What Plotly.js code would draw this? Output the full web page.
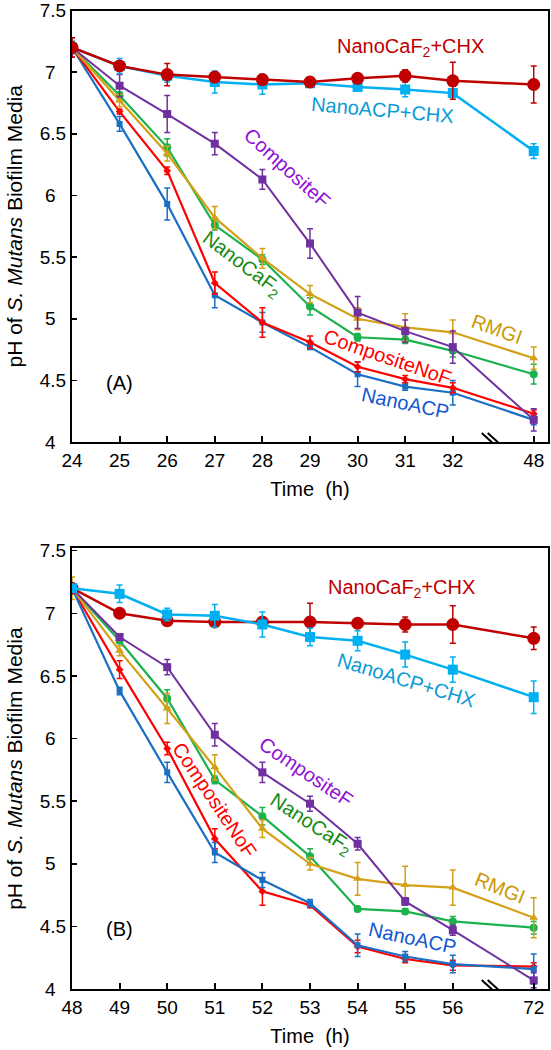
<!DOCTYPE html>
<html>
<head>
<meta charset="utf-8">
<script src="https://cdn.plot.ly/plotly-3.0.1.min.js"></script>
<style>html,body{margin:0;padding:0;background:#fff;} #chart{width:551px;height:1050px;}</style>
</head>
<body>
<div id="chart"></div>
<script>
// ---------- data ----------
const hoursA = [24, 25, 26, 27, 28, 29, 30, 31, 32, 48];
const hoursB = [48, 49, 50, 51, 52, 53, 54, 55, 56, 72];
const tickLabelsA = ['24', '25', '26', '27', '28', '29', '30', '31', '32', '48'];
const tickLabelsB = ['48', '49', '50', '51', '52', '53', '54', '55', '56', '72'];
const yTickVals = [4, 4.5, 5, 5.5, 6, 6.5, 7, 7.5];
const yTickLabels = ['4\u2007', '4.5', '5\u2007', '5.5', '6\u2007', '6.5', '7\u2007', '7.5'];

const seriesNames = ['NanoCaF2+CHX', 'NanoACP+CHX', 'CompositeF', 'RMGI', 'NanoCaF2', 'CompositeNoF', 'NanoACP'];

// Panel A (24-48 h)
const nanoCaF2CHX_A = [7.20, 7.05, 6.98, 6.96, 6.94, 6.92, 6.95, 6.97, 6.93, 6.90];
const nanoCaF2CHX_A_err = [0.08, 0.03, 0.09, 0.03, 0.03, 0.02, 0.03, 0.05, 0.15, 0.15];
const nanoACPCHX_A = [7.20, 7.05, 6.97, 6.92, 6.90, 6.91, 6.88, 6.86, 6.83, 6.36];
const nanoACPCHX_A_err = [0.05, 0.06, 0.05, 0.09, 0.08, 0.02, 0.03, 0.06, 0.03, 0.06];
const compositeF_A = [7.20, 6.89, 6.66, 6.42, 6.13, 5.61, 5.05, 4.90, 4.77, 4.18];
const compositeF_A_err = [0.08, 0.09, 0.15, 0.09, 0.08, 0.12, 0.13, 0.09, 0.13, 0.09];
const rmgi_A = [7.20, 6.77, 6.34, 5.82, 5.49, 5.20, 5.00, 4.93, 4.89, 4.68];
const rmgi_A_err = [0.05, 0.05, 0.06, 0.09, 0.08, 0.07, 0.09, 0.11, 0.10, 0.09];
const nanoCaF2_A = [7.20, 6.81, 6.39, 5.76, 5.48, 5.10, 4.85, 4.83, 4.74, 4.55];
const nanoCaF2_A_err = [0.03, 0.03, 0.07, 0.04, 0.04, 0.07, 0.03, 0.03, 0.05, 0.08];
const compositeNoF_A = [7.20, 6.68, 6.20, 5.29, 4.97, 4.81, 4.61, 4.51, 4.44, 4.23];
const compositeNoF_A_err = [0.03, 0.02, 0.03, 0.09, 0.12, 0.05, 0.04, 0.03, 0.04, 0.03];
const nanoACP_A = [7.20, 6.58, 5.93, 5.19, 4.97, 4.77, 4.55, 4.45, 4.40, 4.18];
const nanoACP_A_err = [0.03, 0.06, 0.13, 0.10, 0.08, 0.02, 0.10, 0.03, 0.10, 0.04];

// Panel B (48-72 h)
const nanoCaF2CHX_B = [7.20, 7.00, 6.94, 6.93, 6.93, 6.93, 6.92, 6.91, 6.91, 6.80];
const nanoCaF2CHX_B_err = [0.03, 0.02, 0.02, 0.02, 0.02, 0.15, 0.03, 0.06, 0.15, 0.09];
const nanoACPCHX_B = [7.20, 7.155, 6.99, 6.98, 6.91, 6.81, 6.78, 6.67, 6.55, 6.33];
const nanoACPCHX_B_err = [0.02, 0.07, 0.05, 0.09, 0.10, 0.07, 0.08, 0.10, 0.10, 0.13];
const compositeF_B = [7.20, 6.81, 6.57, 6.03, 5.73, 5.48, 5.16, 4.70, 4.47, 4.07];
const compositeF_B_err = [0.02, 0.02, 0.06, 0.09, 0.08, 0.06, 0.05, 0.03, 0.04, 0.06];
const rmgi_B = [7.20, 6.70, 6.24, 5.77, 5.28, 5.00, 4.88, 4.83, 4.81, 4.57];
const rmgi_B_err = [0.09, 0.04, 0.12, 0.10, 0.07, 0.05, 0.13, 0.15, 0.14, 0.16];
const nanoCaF2_B = [7.20, 6.78, 6.32, 5.67, 5.38, 5.06, 4.64, 4.62, 4.54, 4.49];
const nanoCaF2_B_err = [0.02, 0.02, 0.07, 0.03, 0.07, 0.06, 0.02, 0.02, 0.04, 0.05];
const compositeNoF_B = [7.20, 6.55, 5.92, 5.20, 4.78, 4.67, 4.34, 4.24, 4.19, 4.18];
const compositeNoF_B_err = [0.02, 0.07, 0.05, 0.08, 0.11, 0.02, 0.05, 0.03, 0.04, 0.03];
const nanoACP_B = [7.20, 6.38, 5.73, 5.09, 4.87, 4.685, 4.35, 4.26, 4.20, 4.16];
const nanoACP_B_err = [0.02, 0.03, 0.08, 0.08, 0.06, 0.03, 0.09, 0.04, 0.07, 0.12];

// ---------- broken time axis: 8 consecutive hours, then a break to the final hour ----------
const BREAK_AFTER = 8, LAST_POS = 9.7;
function axisPos(hours) {
  const h0 = hours[0];
  return hours.map(h => (h - h0 <= BREAK_AFTER ? h - h0 : LAST_POS));
}

// ---------- styles ----------
const FONT = 'Arial, "Liberation Sans", sans-serif';
const styles = {
  'NanoCaF2+CHX': {color: '#C00000', symbol: 'circle', size: 13, width: 2.5},
  'NanoACP+CHX': {color: '#00B0F0', symbol: 'square', size: 10, width: 2.5},
  'CompositeF':  {color: '#7030A0', symbol: 'square', size: 8, width: 2},
  'RMGI':        {color: '#D4A017', symbol: 'triangle-up', size: 8, width: 2.2},
  'NanoCaF2':    {color: '#1BB14C', symbol: 'circle', size: 8, width: 2.2},
  'CompositeNoF':{color: '#FF0000', symbol: 'diamond', size: 6, width: 2.2},
  'NanoACP':     {color: '#1A6FC4', symbol: 'square', size: 6, width: 2.2}
};

function mk(name, hours, vals, errs, xa, ya) {
  const s = styles[name];
  return {
    type: 'scatter', mode: 'lines+markers', name: name,
    x: axisPos(hours), y: vals, xaxis: xa, yaxis: ya,
    line: {color: s.color, width: s.width},
    marker: {color: s.color, symbol: s.symbol, size: s.size},
    error_y: {type: 'data', array: errs, visible: true, color: s.color, thickness: 1.5, width: 3},
    showlegend: false, hoverinfo: 'skip'
  };
}

const panelA = [
  ['NanoACP', nanoACP_A, nanoACP_A_err],
  ['CompositeNoF', compositeNoF_A, compositeNoF_A_err],
  ['NanoCaF2', nanoCaF2_A, nanoCaF2_A_err],
  ['RMGI', rmgi_A, rmgi_A_err],
  ['CompositeF', compositeF_A, compositeF_A_err],
  ['NanoACP+CHX', nanoACPCHX_A, nanoACPCHX_A_err],
  ['NanoCaF2+CHX', nanoCaF2CHX_A, nanoCaF2CHX_A_err]
];
const panelB = [
  ['CompositeNoF', compositeNoF_B, compositeNoF_B_err],
  ['NanoACP', nanoACP_B, nanoACP_B_err],
  ['NanoCaF2', nanoCaF2_B, nanoCaF2_B_err],
  ['RMGI', rmgi_B, rmgi_B_err],
  ['CompositeF', compositeF_B, compositeF_B_err],
  ['NanoCaF2+CHX', nanoCaF2CHX_B, nanoCaF2CHX_B_err],
  ['NanoACP+CHX', nanoACPCHX_B, nanoACPCHX_B_err]
];

const data = [];
panelA.forEach(p => data.push(mk(p[0], hoursA, p[1], p[2], 'x', 'y')));
panelB.forEach(p => data.push(mk(p[0], hoursB, p[1], p[2], 'x2', 'y2')));

function xAxis(hours, labels, anchor) {
  return {
    domain: [0, 1], anchor: anchor, range: [0, 10],
    tickmode: 'array', tickvals: axisPos(hours), ticktext: labels,
    ticks: 'inside', ticklen: 6, tickwidth: 2, tickcolor: '#000',
    showline: true, linecolor: '#000', linewidth: 2, mirror: true,
    showgrid: false, zeroline: false, ticklabeloverflow: 'allow',
    tickfont: {family: FONT, size: 19, color: '#000'},
    title: {text: 'Time&#160;&#160;(h)', font: {family: FONT, size: 20, color: '#000'}, standoff: 12}
  };
}
function yAxis(domain, anchor, range) {
  return {
    domain: domain, anchor: anchor, range: range,
    tickmode: 'array', tickvals: yTickVals, ticktext: yTickLabels,
    ticks: 'inside', ticklen: 5, tickwidth: 1.5, tickcolor: '#000',
    showline: true, linecolor: '#000', linewidth: 2, mirror: true,
    showgrid: false, zeroline: false, ticklabeloverflow: 'allow',
    tickfont: {family: FONT, size: 19, color: '#000'},
    title: {text: 'pH of <i>S. Mutans</i> Biofilm Media', font: {family: FONT, size: 21, color: '#000'}, standoff: 11}
  };
}

function ann(text, x, y, xref, yref, color, angle, size) {
  return {text: text, x: x, y: y, xref: xref, yref: yref, showarrow: false,
    textangle: angle, font: {family: FONT, size: size || 20, color: color},
    xanchor: 'center', yanchor: 'middle'};
}
// label positions expressed in axis units (x: axis position, y: pH)
const annotations = [
  ann('NanoCaF<sub>2</sub>+CHX', 7.12, 7.2, 'x', 'y', '#C00000', 0),
  ann('NanoACP+CHX', 6.53, 6.69, 'x', 'y', '#0A9BD6', 5),
  ann('CompositeF', 4.52, 6.22, 'x', 'y', '#9010D8', 42),
  ann('NanoCaF<sub>2</sub>', 3.57, 5.44, 'x', 'y', '#138A13', 37),
  ann('RMGI', 8.93, 4.92, 'x', 'y', '#CC9A06', 20),
  ann('CompositeNoF', 6.62, 4.69, 'x', 'y', '#FF0000', 19),
  ann('NanoACP', 7.0, 4.32, 'x', 'y', '#1558D0', 12),
  ann('(A)', 1.0, 4.48, 'x', 'y', '#000', 0),

  ann('NanoCaF<sub>2</sub>+CHX', 6.93, 7.2, 'x2', 'y2', '#C00000', 0),
  ann('NanoACP+CHX', 7.02, 6.47, 'x2', 'y2', '#0A9BD6', 17),
  ann('CompositeF', 4.92, 5.73, 'x2', 'y2', '#9010D8', 34),
  ann('NanoCaF<sub>2</sub>', 5.02, 5.31, 'x2', 'y2', '#138A13', 33),
  ann('RMGI', 9.0, 4.81, 'x2', 'y2', '#CC9A06', 22),
  ann('NanoACP', 7.15, 4.41, 'x2', 'y2', '#1558D0', 12),
  ann('CompositeNoF', 3.0, 5.51, 'x2', 'y2', '#FF0000', 56),
  ann('(B)', 1.0, 4.48, 'x2', 'y2', '#000', 0)
];

// axis-break marks "\\" placed at the break position on each time axis
function breakMarks(xref, yref) {
  const out = [];
  [-3, 3].forEach(dx => out.push({
    type: 'line', xref: xref, yref: yref,
    xsizemode: 'pixel', xanchor: 8.88, x0: dx - 10, x1: dx + 10,
    ysizemode: 'pixel', yanchor: 4, y0: 9, y1: -9,
    line: {color: '#000', width: 2}
  }));
  return out;
}

const layout = {
  width: 551, height: 1050,
  margin: {l: 72, r: 3, t: 0, b: 0},
  paper_bgcolor: '#fff', plot_bgcolor: '#fff',
  font: {family: FONT, color: '#000'},
  xaxis: xAxis(hoursA, tickLabelsA, 'y'),
  yaxis: yAxis([0.579, 0.99], 'x', [4, 7.5]),
  xaxis2: xAxis(hoursB, tickLabelsB, 'y2'),
  yaxis2: yAxis([0.058, 0.478], 'x2', [4, 7.52]),
  annotations: annotations,
  shapes: breakMarks('x', 'y').concat(breakMarks('x2', 'y2'))
};

Plotly.newPlot('chart', data, layout, {staticPlot: true, displayModeBar: false});
</script>
</body>
</html>
